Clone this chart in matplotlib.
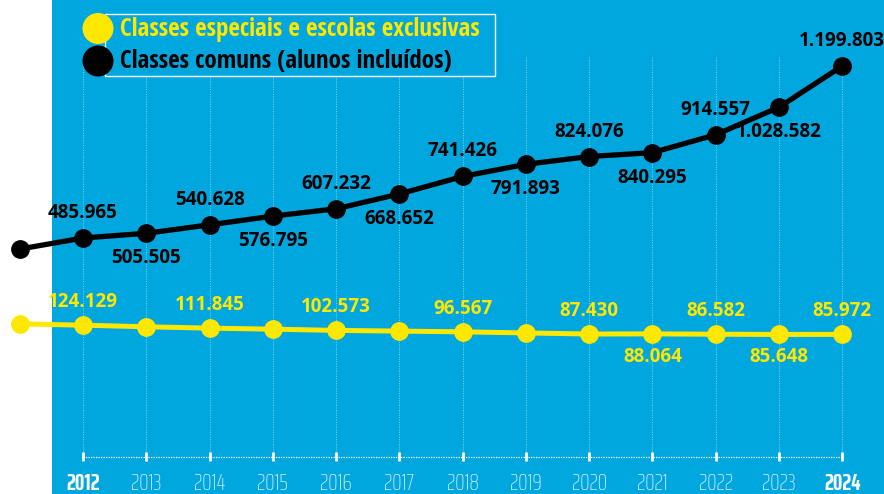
import matplotlib
matplotlib.use("Agg")
import matplotlib.pyplot as plt
import matplotlib.transforms as mtransforms
from matplotlib.patches import Rectangle, Circle

# dados (2011 aparece só como ponto de partida, sem rótulo)
years = [2011, 2012, 2013, 2014, 2015, 2016, 2017, 2018, 2019, 2020, 2021, 2022, 2023, 2024]
comuns = [440000, 485965, 505505, 540628, 576795, 607232, 668652, 741426, 791893,
          824076, 840295, 914557, 1028582, 1199803]
especiais = [129500, 124129, 117500, 111845, 107500, 102573, 99500, 96567, 92000,
             87430, 88064, 86582, 85648, 85972]
# rótulos escritos no gráfico (None = sem rótulo)
comuns_labels = [None, "485.965", "505.505", "540.628", "576.795", "607.232", "668.652",
                 "741.426", "791.893", "824.076", "840.295", "914.557", "1.028.582", "1.199.803"]
comuns_pos = [0, 1, -1, 1, -1, 1, -1, 1, -1, 1, -1, 1, -1, 1]
especiais_labels = [None, "124.129", None, "111.845", None, "102.573", None, "96.567", None,
                    "87.430", "88.064", "86.582", "85.648", "85.972"]
especiais_pos = [0, 1, 0, 1, 0, 1, 0, 1, 0, 1, -1, 1, -1, 1]
tick_years = years[1:]
bold_years = [2012, 2024]
legend_labels = ["Classes especiais e escolas exclusivas", "Classes comuns (alunos incluídos)"]

BLUE = "#00a6de"
YELLOW = "#ffe800"
BLACK = "#000000"
W, H = 884, 494
YEAR_FONT = ["Saira ExtraCondensed", "Barlow Condensed", "Open Sans", "DejaVu Sans"]
VALUE_FONT = ["Open Sans", "DejaVu Sans"]
LEG_FONT = ["Open Sans Condensed", "Open Sans", "DejaVu Sans"]

fig = plt.figure(figsize=(W / 100, H / 100), dpi=100, facecolor="white")
ax = fig.add_axes([52 / W, 0, 1 - 52 / W, 1])
ax.set_facecolor(BLUE)
for s in ax.spines.values():
    s.set_visible(False)
ax.set_xticks([])
ax.set_yticks([])
ax.set_xlim(2011.51, 2024.66)
ax.set_ylim(-576500, 1473700)

# coordenadas em pixels da figura (origem no topo)
px = mtransforms.Affine2D().scale(1 / W, -1 / H).translate(0, 1) + fig.transFigure
xpx = mtransforms.blended_transform_factory(ax.transData, px)

# grade vertical pontilhada
for y in tick_years:
    ax.plot([y, y], [57, 452], transform=xpx, color="#8ad4f0", lw=0.7, ls=(0, (1, 1.5)), zorder=1)
# eixo inferior
ax.plot([tick_years[0], tick_years[-1]], [456.5, 456.5], transform=xpx, color="white",
        lw=0.9, ls=(0, (1, 1)), zorder=1)
for y in tick_years:
    ax.plot([y, y], [452, 461], transform=xpx, color="white", lw=2, solid_capstyle="butt", zorder=2)
    bold = y in bold_years
    ax.text(y, 490, str(y), transform=xpx, ha="center", va="baseline", family=YEAR_FONT,
            fontweight="bold" if bold else "light",
            color="white" if bold else "#d6eff9", fontsize=17)

# linhas
ax.plot(years, comuns, color=BLACK, lw=3.8, marker="o", ms=12.5, clip_on=False, zorder=4)
ax.plot(years, especiais, color=YELLOW, lw=3.6, marker="o", ms=12.5, clip_on=False, zorder=4)

vfont = dict(family=VALUE_FONT, fontweight="bold", fontsize=13.5)
for x, v, lab, p in zip(years, comuns, comuns_labels, comuns_pos):
    if lab:
        ax.annotate(lab, (x, v), xytext=(0, 18 * p), textcoords="offset points",
                    ha="center", va="center", color=BLACK, zorder=5, **vfont)
for x, v, lab, p in zip(years, especiais, especiais_labels, especiais_pos):
    if lab:
        ax.annotate(lab, (x, v), xytext=(0, 16.5 * p), textcoords="offset points",
                    ha="center", va="center", color=YELLOW, zorder=5, **vfont)

# legenda
ax.add_patch(Rectangle((105, 76), 390, -62, transform=px, facecolor=BLUE, edgecolor="white",
                       lw=1, zorder=6, clip_on=False))
for i, (lab, col) in enumerate(zip(legend_labels, [YELLOW, BLACK])):
    yc = 28.5 + 32.5 * i
    ax.add_patch(Circle((98, yc), 15.5, transform=px, facecolor=col, edgecolor="none",
                        zorder=7, clip_on=False))
    ax.text(120, yc + 1, lab, transform=px, ha="left", va="center", color=col, zorder=8,
            family=LEG_FONT, fontstretch="condensed", fontweight="bold", fontsize=18)

fig.savefig("out.png", dpi=100, facecolor="white")
